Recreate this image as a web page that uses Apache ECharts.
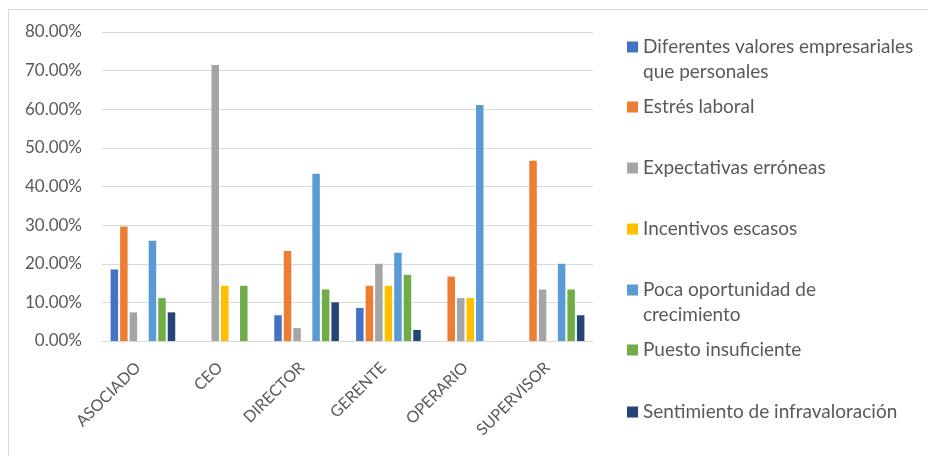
<!DOCTYPE html>
<html>
<head>
<meta charset="utf-8">
<script src="https://cdn.jsdelivr.net/npm/echarts@6/dist/echarts.min.js"></script>
<style>
  html, body { margin: 0; padding: 0; background: #fff; }
  #chart { width: 928px; height: 456px; }
</style>
</head>
<body>
<div id="chart"></div>
<script>
// Puestos (categorías del eje X)
const categories = ['ASOCIADO', 'CEO', 'DIRECTOR', 'GERENTE', 'OPERARIO', 'SUPERVISOR'];

// Motivos (series) y sus porcentajes por puesto
const seriesNames = [
  'Diferentes valores empresariales que personales',
  'Estrés laboral',
  'Expectativas erróneas',
  'Incentivos escasos',
  'Poca oportunidad de crecimiento',
  'Puesto insuficiente',
  'Sentimiento de infravaloración'
];
const diferentesValores   = [18.52, 0,     6.67,  8.57,  0,     0];
const estresLaboral       = [29.63, 0,     23.33, 14.29, 16.67, 46.67];
const expectativas        = [7.41,  71.43, 3.33,  20.00, 11.11, 13.33];
const incentivos          = [0,     14.29, 0,     14.29, 11.11, 0];
const pocaOportunidad     = [25.93, 0,     43.33, 22.86, 61.11, 20.00];
const puestoInsuficiente  = [11.11, 14.29, 13.33, 17.14, 0,     13.33];
const infravaloracion     = [7.41,  0,     10.00, 2.86,  0,     6.67];

// Etiquetas del eje Y
const yTicks = [0, 10, 20, 30, 40, 50, 60, 70, 80];

const seriesData = [diferentesValores, estresLaboral, expectativas, incentivos,
                    pocaOportunidad, puestoInsuficiente, infravaloracion];
const colors = ['#4472C4', '#ED7D31', '#A5A5A5', '#FFC000', '#5B9BD5', '#70AD47', '#264478'];

// Nombres largos de la leyenda, partidos en dos renglones
const legendLines = {
  'Diferentes valores empresariales que personales': ['Diferentes valores empresariales', 'que personales'],
  'Poca oportunidad de crecimiento': ['Poca oportunidad de', 'crecimiento']
};

const FONT = 'Lato';
const TEXT_COLOR = '#595959';
const LINE_H = 25;
const legendCenters = [47, 107, 168, 229, 290, 350, 412];

function legendBase(name, top, extra) {
  return Object.assign({
    data: [name],
    orient: 'vertical',
    left: 627,
    top: top,
    padding: 0,
    itemWidth: 11,
    itemHeight: 11,
    itemGap: 6,
    icon: 'rect',
    selectedMode: false,
    textStyle: {
      fontFamily: FONT,
      fontSize: 19,
      color: TEXT_COLOR,
      lineHeight: LINE_H
    }
  }, extra);
}

const legends = [];
seriesNames.forEach((name, i) => {
  const lines = legendLines[name];
  const top = legendCenters[i] - LINE_H / 2;
  if (lines) {
    // primer renglón con el icono, segundo renglón alineado debajo sin icono
    legends.push(legendBase(name, top, { formatter: () => lines[0] }));
    legends.push(legendBase(name, top + LINE_H, { icon: 'none', formatter: () => lines[1] }));
  } else {
    legends.push(legendBase(name, top, {}));
  }
});

const option = {
  animation: false,
  color: colors,
  legend: legends,
  grid: { left: 102, right: 335, top: 32, bottom: 115, containLabel: false },
  xAxis: {
    type: 'category',
    data: categories,
    axisLine: { show: true, lineStyle: { color: '#D9D9D9', width: 1 } },
    axisTick: { show: false },
    axisLabel: {
      rotate: 45,
      margin: 19,
      interval: 0,
      padding: [0, 7, 0, 0],
      fontFamily: FONT,
      fontSize: 16,
      color: TEXT_COLOR
    }
  },
  yAxis: {
    type: 'value',
    min: yTicks[0],
    max: yTicks[yTicks.length - 1],
    interval: 10,
    axisLine: { show: false },
    axisTick: { show: false },
    splitLine: { lineStyle: { color: '#D9D9D9', width: 1 } },
    axisLabel: {
      margin: 20,
      fontFamily: FONT,
      fontSize: 17,
      color: TEXT_COLOR,
      formatter: v => v.toFixed(2) + '%'
    }
  },
  graphic: [{
    type: 'rect',
    silent: true,
    z: -10,
    shape: { x: 8.5, y: 9.5, width: 1000, height: 1000 },
    style: { fill: 'none', stroke: '#D9D9D9', lineWidth: 1 }
  }],
  series: seriesNames.map((name, i) => ({
    name: name,
    type: 'bar',
    data: seriesData[i],
    barWidth: 7.5,
    barGap: '27%',
    itemStyle: { color: colors[i] }
  }))
};

const chart = echarts.init(document.getElementById('chart'), null, { renderer: 'canvas' });
chart.setOption(option);
</script>
</body>
</html>
